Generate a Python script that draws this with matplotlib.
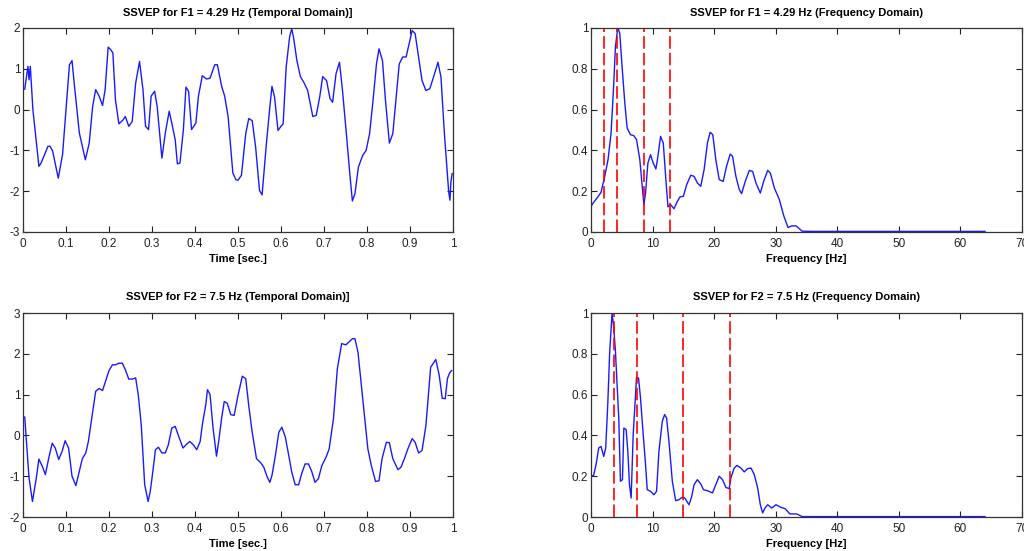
import numpy as np
import matplotlib
matplotlib.use("Agg")
import matplotlib.pyplot as plt

plt.rcParams['font.family'] = ['Liberation Sans', 'DejaVu Sans']

# signal 1 (F1 = 4.29 Hz), time domain
t1 = [0.004, 0.0115, 0.014, 0.017, 0.023, 0.037, 0.042, 0.058, 0.063, 0.069, 0.082, 0.092,
      0.104, 0.108, 0.114, 0.119, 0.131, 0.145, 0.154, 0.162, 0.169, 0.177, 0.185, 0.191,
      0.198, 0.204, 0.209, 0.215, 0.223, 0.232, 0.238, 0.246, 0.254, 0.262, 0.271, 0.279,
      0.285, 0.292, 0.298, 0.306, 0.312, 0.323, 0.331, 0.34, 0.346, 0.354, 0.359, 0.365,
      0.373, 0.379, 0.385, 0.392, 0.402, 0.408, 0.417, 0.427, 0.435, 0.446, 0.452, 0.462,
      0.469, 0.477, 0.488, 0.495, 0.5, 0.508, 0.518, 0.525, 0.533, 0.541, 0.55, 0.556,
      0.566, 0.574, 0.579, 0.585, 0.593, 0.6, 0.605, 0.612, 0.62, 0.625, 0.629, 0.637,
      0.645, 0.654, 0.662, 0.674, 0.682, 0.69, 0.697, 0.706, 0.714, 0.72, 0.728, 0.736,
      0.743, 0.752, 0.76, 0.766, 0.772, 0.78, 0.79, 0.798, 0.806, 0.814, 0.822, 0.828,
      0.836, 0.843, 0.852, 0.86, 0.868, 0.875, 0.883, 0.891, 0.898, 0.905, 0.912, 0.92,
      0.928, 0.937, 0.946, 0.956, 0.965, 0.972, 0.98, 0.987, 0.99, 0.993, 0.995, 0.998]
s1 = [0.5, 1.06, 0.73, 1.06, 0.0, -1.39, -1.31, -0.9, -0.9, -1.02, -1.68, -1.1,
      0.57, 1.1, 1.2, 0.65, -0.57, -1.23, -0.82, 0.08, 0.49, 0.33, 0.1, 0.49,
      1.53, 1.47, 1.39, 0.24, -0.35, -0.26, -0.17, -0.41, -0.29, 0.65, 1.18, 0.49,
      -0.41, -0.49, 0.33, 0.45, 0.08, -1.19, -0.57, -0.04, -0.33, -0.74, -1.33, -1.31,
      -0.49, 0.55, 0.45, -0.49, -0.33, 0.33, 0.83, 0.75, 0.77, 1.1, 1.1, 0.57,
      0.33, -0.17, -1.55, -1.72, -1.73, -1.61, -0.59, -0.22, -0.27, -0.92, -1.98, -2.09,
      -0.84, 0.06, 0.57, 0.31, -0.51, -0.41, -0.35, 1.04, 1.78, 1.98, 1.78, 1.2,
      0.81, 0.65, 0.47, -0.17, -0.14, 0.31, 0.81, 0.71, 0.27, 0.18, 0.88, 1.16,
      0.47, -0.59, -1.57, -2.24, -2.06, -1.41, -1.12, -1.0, -0.59, 0.22, 1.12, 1.49,
      1.2, 0.22, -0.82, -0.59, 0.31, 1.12, 1.29, 1.29, 1.61, 1.94, 1.86, 1.29,
      0.71, 0.47, 0.51, 0.84, 1.16, 0.8, -0.59, -1.57, -2.02, -2.22, -1.78, -1.57]

# signal 1, spectrum
f1 = [0, 0.43, 0.98, 1.63, 2.23, 2.77, 3.26, 3.7, 3.97, 4.35, 4.67, 5.05, 5.49, 5.87,
      6.41, 6.96, 7.39, 7.93, 8.32, 8.59, 8.86, 9.24, 9.67, 10.1, 10.54, 10.87, 11.3,
      11.74, 12.12, 12.5, 12.93, 13.48, 14.02, 14.46, 15.0, 15.54, 16.2, 16.74, 17.28,
      17.83, 18.37, 18.91, 19.35, 19.78, 20.27, 20.82, 21.47, 22.01, 22.61, 22.99, 23.53,
      24.08, 24.46, 25.05, 25.71, 26.25, 26.79, 27.5, 28.04, 28.7, 29.13, 29.78, 30.6,
      31.3, 32.0, 32.6, 33.3, 34.3, 36, 40, 45, 50, 55, 60, 64]
p1 = [0.126, 0.145, 0.167, 0.194, 0.273, 0.355, 0.485, 0.73, 0.91, 1.0, 0.975, 0.81, 0.632,
      0.51, 0.477, 0.472, 0.453, 0.355, 0.224, 0.134, 0.191, 0.338, 0.379, 0.338, 0.309,
      0.371, 0.469, 0.436, 0.273, 0.123, 0.134, 0.114, 0.15, 0.172, 0.175, 0.232, 0.278,
      0.273, 0.24, 0.224, 0.306, 0.436, 0.489, 0.477, 0.355, 0.257, 0.248, 0.322, 0.382,
      0.371, 0.273, 0.208, 0.188, 0.248, 0.302, 0.297, 0.24, 0.191, 0.248, 0.302, 0.289,
      0.216, 0.158, 0.08, 0.022, 0.03, 0.03, 0.004, 0.003, 0.003, 0.003, 0.003, 0.003,
      0.003, 0.003]

# signal 2 (F2 = 7.5 Hz), time domain
t2 = [0.004, 0.008, 0.014, 0.022, 0.031, 0.037, 0.045, 0.052, 0.06, 0.068, 0.075, 0.083,
      0.091, 0.098, 0.106, 0.114, 0.123, 0.131, 0.138, 0.146, 0.152, 0.16, 0.169, 0.177,
      0.185, 0.192, 0.2, 0.208, 0.215, 0.223, 0.231, 0.238, 0.246, 0.254, 0.262, 0.268,
      0.275, 0.283, 0.291, 0.296, 0.302, 0.308, 0.315, 0.323, 0.331, 0.338, 0.346, 0.354,
      0.362, 0.372, 0.381, 0.388, 0.396, 0.404, 0.412, 0.417, 0.425, 0.429, 0.435, 0.442,
      0.45, 0.455, 0.462, 0.468, 0.475, 0.483, 0.491, 0.5, 0.51, 0.518, 0.525, 0.533,
      0.543, 0.552, 0.56, 0.568, 0.574, 0.579, 0.587, 0.595, 0.602, 0.61, 0.618, 0.625,
      0.633, 0.641, 0.648, 0.656, 0.664, 0.672, 0.679, 0.687, 0.695, 0.705, 0.712, 0.722,
      0.731, 0.741, 0.751, 0.758, 0.766, 0.772, 0.779, 0.787, 0.795, 0.802, 0.81, 0.82,
      0.828, 0.835, 0.845, 0.852, 0.86, 0.872, 0.879, 0.887, 0.895, 0.905, 0.912, 0.92,
      0.928, 0.937, 0.948, 0.96, 0.968, 0.975, 0.982, 0.987, 0.992, 0.997]
s2 = [0.45, -0.15, -1.04, -1.62, -1.04, -0.58, -0.76, -0.96, -0.55, -0.19, -0.31, -0.59,
      -0.39, -0.13, -0.31, -1.0, -1.23, -0.88, -0.57, -0.43, -0.15, 0.43, 1.08, 1.15,
      1.1, 1.33, 1.59, 1.73, 1.73, 1.77, 1.77, 1.61, 1.38, 1.38, 1.41, 1.0,
      0.26, -1.21, -1.62, -1.37, -0.88, -0.35, -0.29, -0.43, -0.43, -0.23, 0.18, 0.22,
      -0.02, -0.31, -0.21, -0.15, -0.23, -0.35, -0.15, 0.26, 0.75, 1.12, 1.0, 0.18,
      -0.51, -0.15, 0.43, 0.83, 0.79, 0.51, 0.49, 0.98, 1.45, 1.39, 0.73, 0.08,
      -0.57, -0.66, -0.78, -1.02, -1.15, -0.98, -0.49, 0.08, 0.2, -0.04, -0.49, -0.9,
      -1.21, -1.21, -0.94, -0.7, -0.7, -0.9, -1.15, -1.06, -0.74, -0.53, -0.33, 0.41,
      1.63, 2.25, 2.22, 2.29, 2.37, 2.37, 2.04, 1.22, 0.41, -0.33, -0.74, -1.13,
      -1.11, -0.57, -0.17, -0.18, -0.57, -0.84, -0.78, -0.57, -0.33, -0.08, -0.17, -0.43,
      -0.37, 0.24, 1.67, 1.86, 1.47, 0.91, 0.9, 1.39, 1.53, 1.59]

# signal 2, spectrum
f2 = [0, 0.43, 0.87, 1.25, 1.63, 2.07, 2.39, 2.72, 3.04, 3.42, 3.7, 3.97, 4.24, 4.51,
      4.78, 5.11, 5.33, 5.71, 5.98, 6.25, 6.52, 6.85, 7.17, 7.39, 7.72, 8.04, 8.48, 8.86,
      9.13, 9.67, 10.22, 10.65, 11.03, 11.58, 11.96, 12.28, 12.66, 13.21, 13.75, 14.29,
      14.84, 15.22, 15.92, 16.36, 16.74, 17.28, 17.83, 18.26, 18.91, 19.73, 20.27, 20.82,
      21.36, 21.9, 22.45, 22.72, 23.26, 23.7, 24.35, 24.89, 25.43, 25.98, 26.52, 27.07,
      27.5, 27.88, 28.26, 28.7, 29.35, 30.05, 30.87, 31.52, 32.3, 33.4, 34.3, 36, 40,
      45, 50, 55, 60, 64]
p2 = [0.2, 0.204, 0.265, 0.338, 0.346, 0.297, 0.338, 0.551, 0.812, 1.0, 0.926, 0.812,
      0.649, 0.485, 0.175, 0.183, 0.436, 0.428, 0.322, 0.158, 0.093, 0.404, 0.567, 0.685,
      0.681, 0.583, 0.404, 0.257, 0.134, 0.126, 0.109, 0.126, 0.322, 0.469, 0.502, 0.485,
      0.371, 0.175, 0.08, 0.085, 0.098, 0.093, 0.06, 0.101, 0.158, 0.183, 0.162, 0.134,
      0.129, 0.118, 0.158, 0.2, 0.183, 0.145, 0.139, 0.191, 0.24, 0.253, 0.24, 0.221,
      0.237, 0.24, 0.208, 0.142, 0.06, 0.02, 0.044, 0.06, 0.044, 0.06, 0.047, 0.041,
      0.015, 0.015, 0.002, 0.002, 0.002, 0.002, 0.002, 0.002, 0.002, 0.002]

F1 = 4.29
F2 = 7.5
harm = [0.5, 1, 2, 3]

time_ticks = np.arange(0, 1.01, 0.1)
time_labels = ['0', '0.1', '0.2', '0.3', '0.4', '0.5', '0.6', '0.7', '0.8', '0.9', '1']
freq_ticks = np.arange(0, 71, 10)
amp_ticks = np.arange(0, 1.01, 0.2)
amp_labels = ['0', '0.2', '0.4', '0.6', '0.8', '1']

fig = plt.figure(figsize=(10.24, 5.51), dpi=100)
W, H = 1024.0, 551.0
ax_tl = fig.add_axes([23 / W, 1 - 232 / H, 430 / W, 204 / H])
ax_tr = fig.add_axes([591 / W, 1 - 232 / H, 431 / W, 204 / H])
ax_bl = fig.add_axes([23 / W, 1 - 517 / H, 430 / W, 204 / H])
ax_br = fig.add_axes([591 / W, 1 - 517 / H, 431 / W, 204 / H])

blue = '#1a1aff'


def style(ax):
    ax.tick_params(direction='in', top=True, right=True, length=4, width=0.8,
                   labelsize=8.5, colors='#222222')
    ax.tick_params(axis='x', pad=4)
    ax.tick_params(axis='y', pad=2)
    for sp in ax.spines.values():
        sp.set_linewidth(0.9)
        sp.set_color('#333333')


def time_axes(ax, t, s, ylo, yhi, title):
    ax.plot(t, s, color=blue, lw=1.0)
    ax.set_xlim(0, 1)
    ax.set_ylim(ylo, yhi)
    ax.set_xticks(time_ticks)
    ax.set_xticklabels(time_labels)
    ax.set_yticks(np.arange(ylo, yhi + 1))
    ax.set_yticklabels([str(v) for v in range(ylo, yhi + 1)])
    ax.set_title(title, fontsize=8, fontweight='bold', pad=9)
    ax.set_xlabel('Time [sec.]', fontsize=8, fontweight='bold', labelpad=3)
    style(ax)


def freq_axes(ax, f, p, F, title):
    ax.plot(f, p, color=blue, lw=1.0)
    for h in harm:
        ax.axvline(F * h, color='red', lw=1.2, dashes=(7.5, 2.5))
    ax.set_xlim(0, 70)
    ax.set_ylim(0, 1)
    ax.set_xticks(freq_ticks)
    ax.set_yticks(amp_ticks)
    ax.set_yticklabels(amp_labels)
    ax.set_title(title, fontsize=8, fontweight='bold', pad=9)
    ax.set_xlabel('Frequency [Hz]', fontsize=8, fontweight='bold', labelpad=3)
    style(ax)


time_axes(ax_tl, t1, s1, -3, 2, 'SSVEP for F1 = 4.29 Hz (Temporal Domain)]')
freq_axes(ax_tr, f1, p1, F1, 'SSVEP for F1 = 4.29 Hz (Frequency Domain)')
time_axes(ax_bl, t2, s2, -2, 3, 'SSVEP for F2 = 7.5 Hz (Temporal Domain)]')
freq_axes(ax_br, f2, p2, F2, 'SSVEP for F2 = 7.5 Hz (Frequency Domain)')

fig.savefig('out.png', dpi=100)
